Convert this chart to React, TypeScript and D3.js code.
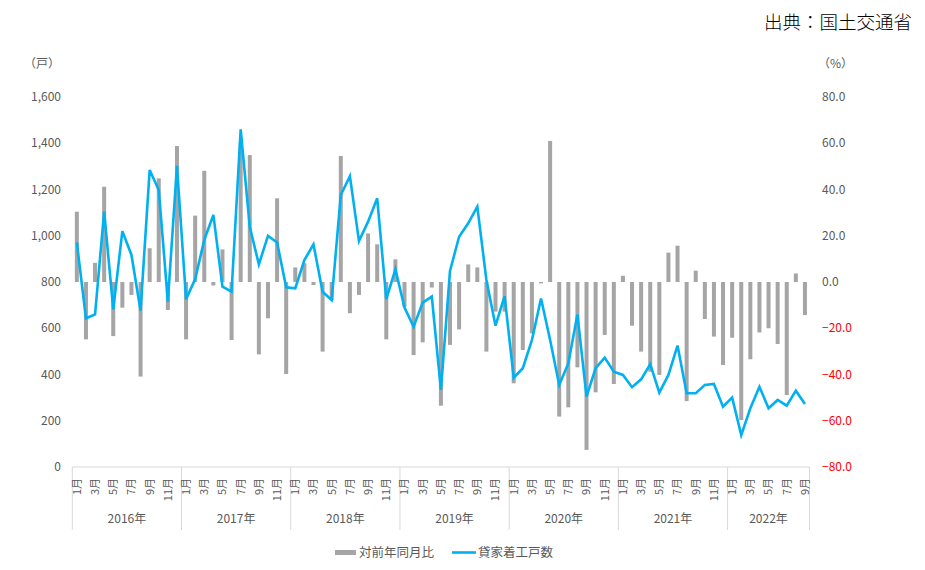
import React from "react";
import * as d3 from "d3";

const years = [2016, 2017, 2018, 2019, 2020, 2021, 2022];
const monthsPerYear = [12, 12, 12, 12, 12, 12, 9];

// 貸家着工戸数 (left axis, 戸)
const starts = [
  971, 643, 660, 1104, 682, 1020, 917, 676, 1284, 1198, 715, 1302,
  726, 813, 982, 1090, 780, 758, 1460, 1039, 876, 1000, 971, 777,
  773, 895, 963, 758, 722, 1176, 1258, 977, 1061, 1162, 726, 855,
  689, 607, 711, 737, 333, 848, 996, 1054, 1126, 809, 611, 739,
  386, 427, 549, 729, 549, 355, 448, 660, 304, 427, 473, 412,
  398, 345, 379, 445, 322, 398, 525, 319, 319, 355, 359, 261,
  300, 138, 254, 347, 254, 290, 265, 330, 272,
];

// 対前年同月比 (right axis, %)
const yoy = [
  30.4, -24.8, 8.3, 41.2, -23.4, -11.1, -5.6, -40.9, 14.6, 44.8, -12.1, 58.8,
  -24.8, 28.7, 48.1, -1.5, 14.1, -25.1, 60.0, 54.9, -31.3, -15.7, 36.2, -39.8,
  6.3, 8.1, -1.3, -30.1, -7.8, 54.5, -13.5, -5.6, 21.0, 16.3, -24.8, 9.8,
  -10.7, -31.6, -26.1, -2.4, -53.5, -27.2, -20.5, 7.6, 6.3, -30.1, -12.8, -12.8,
  -43.8, -29.4, -22.2, -0.6, 61.0, -58.2, -54.2, -36.9, -72.6, -47.7, -22.9, -44.1,
  2.7, -18.9, -30.1, -38.8, -40.2, 12.7, 15.7, -51.5, 4.9, -16.0, -23.6, -35.9,
  -24.1, -59.7, -33.4, -21.8, -20.0, -26.8, -48.9, 3.7, -14.3,
];

const leftTicks = [0, 200, 400, 600, 800, 1000, 1200, 1400, 1600];
const rightTicks = [-80, -60, -40, -20, 0, 20, 40, 60, 80];

const title = "出典：国土交通省";
const leftUnit = "（戸）";
const rightUnit = "（%）";
const legendBar = "対前年同月比";
const legendLine = "貸家着工戸数";

type Month = { key: string; year: number; month: number };
const months: Month[] = [];
years.forEach((y, yi) => {
  for (let m = 1; m <= monthsPerYear[yi]; m++) months.push({ key: `${y}-${m}`, year: y, month: m });
});

const FONT = "'Noto Sans CJK JP', 'Noto Sans', sans-serif";
const GRAY_TEXT = "#595959";
const BAR = "#a5a5a5";
const LINE = "#00b0f0";

export default function App() {
  const W = 925, H = 570;
  const left = 72.3, right = 809.5, top = 97, bottom = 467;

  const x = d3.scaleBand<string>().domain(months.map((m) => m.key)).range([left, right]).padding(0);
  const yL = d3.scaleLinear().domain([0, 1600]).range([bottom, top]);
  const yR = d3.scaleLinear().domain([-80, 80]).range([bottom, top]);
  const bw = x.bandwidth() * 0.44;
  const cx = (i: number) => (x(months[i].key) as number) + x.bandwidth() / 2;

  const line = d3.line<number>().x((_, i) => cx(i)).y((d) => yL(d));
  const fmtL = d3.format(",");
  const fmtR = d3.format(".1f");

  const yearStarts: number[] = [];
  let acc = 0;
  monthsPerYear.forEach((n) => { yearStarts.push(acc); acc += n; });
  const boundaryX = (idx: number) => (idx < months.length ? (x(months[idx].key) as number) : right);

  const axisBottom = 530;

  return (
    <svg width={W} height={H} style={{ position: "absolute", left: 0, top: 0, background: "#fff" }} fontFamily={FONT}>
      <text x={912} y={29} textAnchor="end" fontSize={18.5} fontWeight={300} fill="#000">{title}</text>
      <text x={24} y={68} fontSize={12} fill={GRAY_TEXT}>{leftUnit}</text>
      <text x={818} y={68} fontSize={12} fill={GRAY_TEXT}>{rightUnit}</text>

      {leftTicks.map((t) => (
        <text key={"l" + t} x={61} y={yL(t)} dy="0.35em" textAnchor="end" fontSize={12} fill={GRAY_TEXT}>{fmtL(t)}</text>
      ))}
      {rightTicks.map((t) => (
        <text key={"r" + t} x={822} y={yR(t)} dy="0.35em" textAnchor="start" fontSize={12} fill={t < 0 ? "#ff0000" : GRAY_TEXT}>{fmtR(t)}</text>
      ))}

      {yoy.map((v, i) => (
        <rect key={"b" + i} x={cx(i) - bw / 2} y={Math.min(yR(v), yR(0))} width={bw} height={Math.abs(yR(v) - yR(0))} fill={BAR} />
      ))}

      <path d={line(starts) || ""} fill="none" stroke={LINE} strokeWidth={2.6} strokeLinejoin="miter" />

      <line x1={left} x2={right} y1={bottom} y2={bottom} stroke="#d9d9d9" strokeWidth={1} />
      {yearStarts.map((s, i) => (
        <line key={"d" + i} x1={boundaryX(s)} x2={boundaryX(s)} y1={bottom} y2={axisBottom} stroke="#d9d9d9" strokeWidth={1} />
      ))}
      <line x1={right} x2={right} y1={bottom} y2={axisBottom} stroke="#d9d9d9" strokeWidth={1} />
      {months.map((m, i) =>
        m.month % 2 === 1 ? (
          <text key={"m" + i} transform={`translate(${cx(i)},${bottom + 11}) rotate(-90)`} textAnchor="end" dy="0.35em" fontSize={11} fill={GRAY_TEXT}>
            {m.month}月
          </text>
        ) : null
      )}
      {years.map((y, i) => {
        const a = boundaryX(yearStarts[i]);
        const b = boundaryX(yearStarts[i] + monthsPerYear[i]);
        return (
          <text key={"y" + y} x={(a + b) / 2} y={519} dy="0.35em" textAnchor="middle" fontSize={12} fill={GRAY_TEXT}>{y}年</text>
        );
      })}

      <rect x={335} y={550} width={21} height={5} fill={BAR} />
      <text x={359} y={553} dy="0.35em" fontSize={12.5} fill={GRAY_TEXT}>{legendBar}</text>
      <line x1={452} x2={476} y1={552.5} y2={552.5} stroke={LINE} strokeWidth={2.6} />
      <text x={478} y={553} dy="0.35em" fontSize={12.5} fill={GRAY_TEXT}>{legendLine}</text>
    </svg>
  );
}
